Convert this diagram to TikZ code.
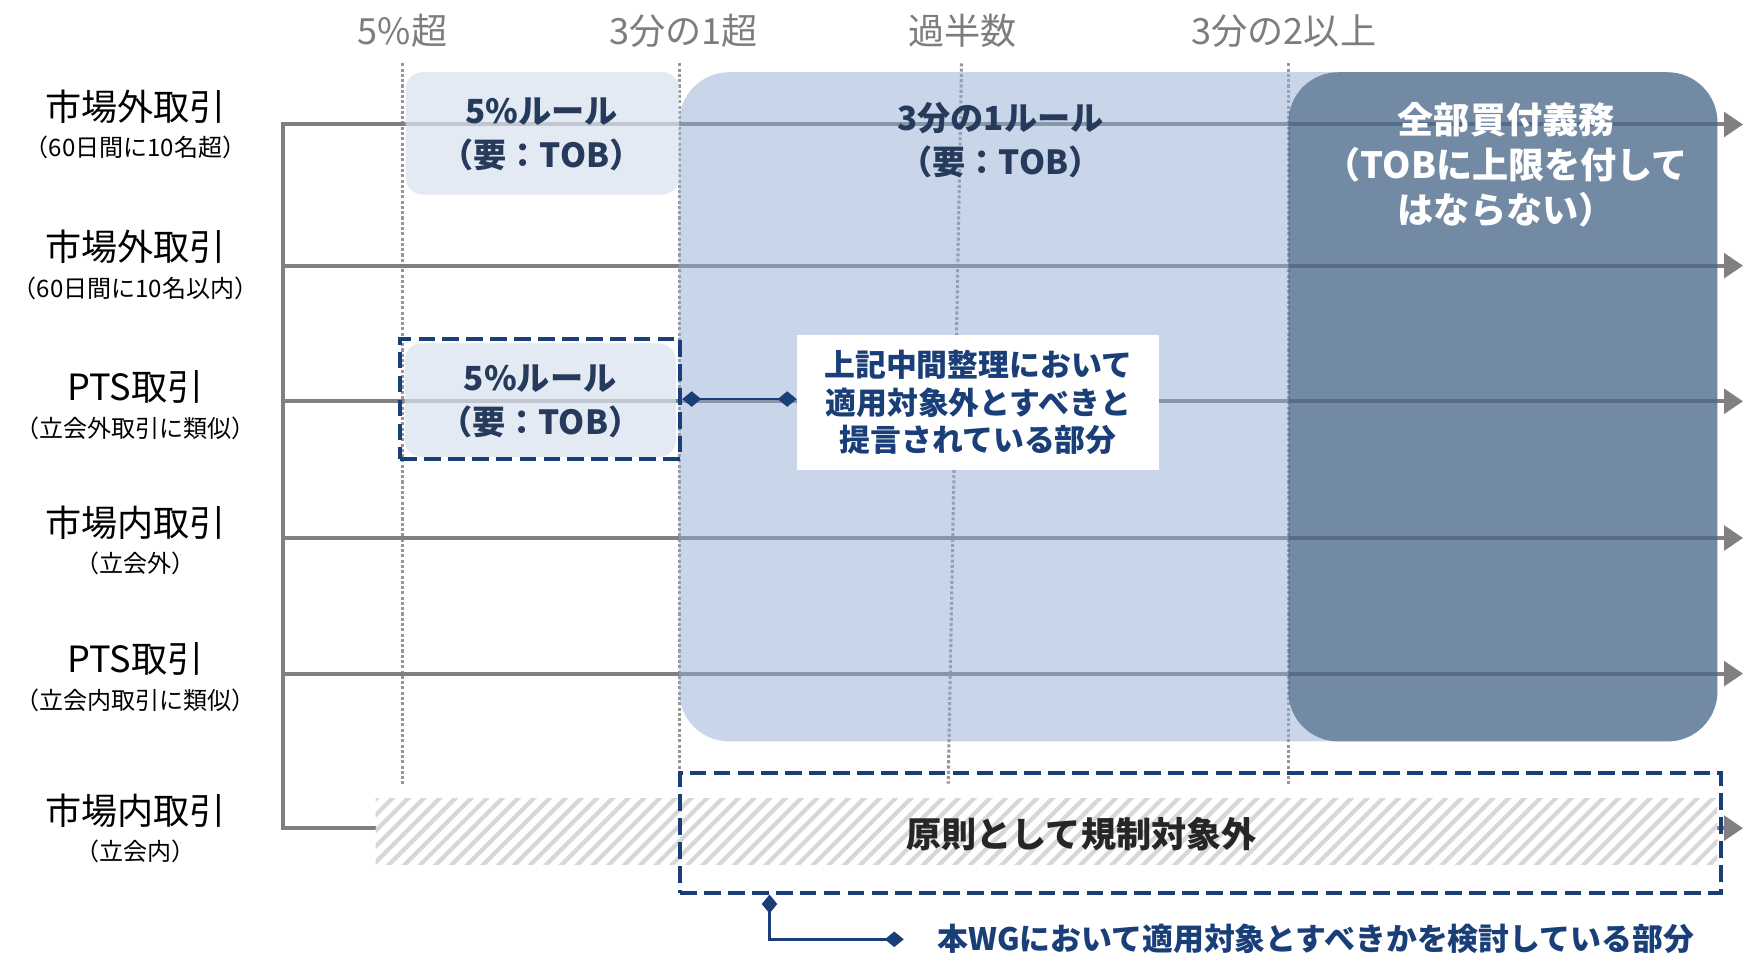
\documentclass[tikz,border=0pt]{standalone}
\usepackage{fontspec}
\setmainfont{Noto Sans CJK JP}
\usetikzlibrary{arrows.meta,patterns.meta}

\definecolor{navy}{RGB}{25,62,120}
\definecolor{rulebg}{RGB}{218,226,238}
\definecolor{thirdbg}{RGB}{147,173,212}
\definecolor{fullbg}{RGB}{44,74,107}
\definecolor{rulefont}{RGB}{38,58,92}
\definecolor{linegray}{RGB}{128,128,128}
\definecolor{dotgray}{RGB}{150,150,150}
\definecolor{hatchgray}{RGB}{215,215,215}
\definecolor{topgray}{RGB}{125,125,125}

\begin{document}
\begin{tikzpicture}[x=0.2mm, y=-0.2mm,
    every node/.style={inner sep=0pt, align=center},
    flowline/.style={linegray, line width=0.72mm, -{Triangle[length=3.4mm, width=4.4mm]}},
    trunkline/.style={linegray, line width=0.72mm, line cap=rect},
    guideline/.style={dotgray, line width=0.55mm, dash pattern=on 0.55mm off 0.4mm},
    dashframe/.style={draw=navy, line width=0.7mm, dash pattern=on 3mm off 1.3mm},
    pinline/.style={navy, line width=0.5mm, {Diamond[length=3.4mm, width=2.8mm]}-{Diamond[length=3.4mm, width=2.8mm]}},
    pctlabel/.style={text=topgray, font=\fontsize{18.5}{22}\selectfont},
    rowlabel/.style={font=\fontsize{18.5}{22}\selectfont},
    rownote/.style={font=\fontsize{12.3}{14}\selectfont},
    ruleword/.style={text=rulefont, font=\bfseries\fontsize{17}{22.8}\selectfont},
    fullword/.style={text=white, font=\bfseries\fontsize{18.5}{23}\selectfont},
    noteword/.style={text=navy, font=\bfseries\fontsize{15.8}{19.4}\selectfont},
    bandword/.style={text=black!85, font=\bfseries\fontsize{18}{22}\selectfont}]

    \useasboundingbox (0,0) rectangle (1568,859);

    % Thresholds
    \foreach \x/\t [count=\i] in {362/5\%超, 615/3分の1超, 866/過半数, 1155/3分の2以上}
        \node[pctlabel] (pct\i) at (\x,28) {\t};
    \draw[guideline] (362,57) -- (362,705);
    \draw[guideline] (611,57) -- (611,695);
    \draw[guideline] (865,57) -- (853,705);
    \draw[guideline] (1159,57) -- (1159,705);

    % Trading routes
    \foreach \y [count=\i] in {112,239,361,484,606,745} {
        \coordinate (r\i) at (255,\y);
        \coordinate (e\i) at (1568,\y);
        \draw[flowline] (r\i) -- (e\i);
    }
    \draw[trunkline] (r1) -- (r6);
    \foreach \y/\main/\note [count=\i] in {96/市場外取引/（60日間に10名超）, 222/市場外取引/（60日間に10名以内）, 348/PTS取引/（立会外取引に類似）, 470/市場内取引/（立会外）, 593/PTS取引/（立会内取引に類似）, 729/市場内取引/（立会内）} {
        \node[rowlabel] (row\i) at (122,\y) {\main};
        \node[rownote] (rownote\i) at (122,\y+37) {\note};
    }

    % Rule areas
    \fill[rulebg, fill opacity=0.73, rounded corners=3mm] (365,65) rectangle (611,175);
    \fill[thirdbg, fill opacity=0.5, rounded corners=9mm] (611,65) rectangle (1545,667);
    \fill[fullbg, fill opacity=0.54, rounded corners=9mm] (1159,65) rectangle (1545,667);
    \fill[rulebg, fill opacity=0.73, rounded corners=3mm] (364,309) rectangle (608,411);
    \node[ruleword] (rule5) at (487,121) {5\%ルール\\（要：TOB）};
    \node[ruleword] (rule3) at (900,126) {3分の1ルール\\（要：TOB）};
    \node[fullword] (fullbuy) at (1355,148) {全部買付義務\\（TOBに上限を付して\\はならない）};

    % PTS part proposed to be excluded
    \node[ruleword] (rulepts) at (486,361) {5\%ルール\\（要：TOB）};
    \node[dashframe, minimum width=50.4mm, minimum height=21.6mm] (ptsbox) at (486,359) {};
    \node[noteword, fill=white, minimum width=65.2mm, minimum height=24.2mm] (note) at (880,362) {上記中間整理において\\適用対象外とすべきと\\提言されている部分};
    \draw[pinline] (ptsbox.east) -- (note.west |- ptsbox.east);

    % On-exchange trading
    \fill[white] (338,718) rectangle (1545,778);
    \fill[pattern={Lines[angle=45, distance=2mm, line width=0.76mm]}, pattern color=hatchgray] (338,718) rectangle (1545,778);
    \node[bandword] (exempt) at (973,750) {原則として規制対象外};
    \node[dashframe, minimum width=187.2mm, minimum height=21.6mm] (wgbox) at (1080,749) {};
    \node[noteword, anchor=west] (wgnote) at (843,845) {本WGにおいて適用対象とすべきかを検討している部分};
    \draw[pinline] ([xshift=16.4mm]wgbox.south west) |- ([xshift=-6mm]wgnote.west);

\end{tikzpicture}
\end{document}
